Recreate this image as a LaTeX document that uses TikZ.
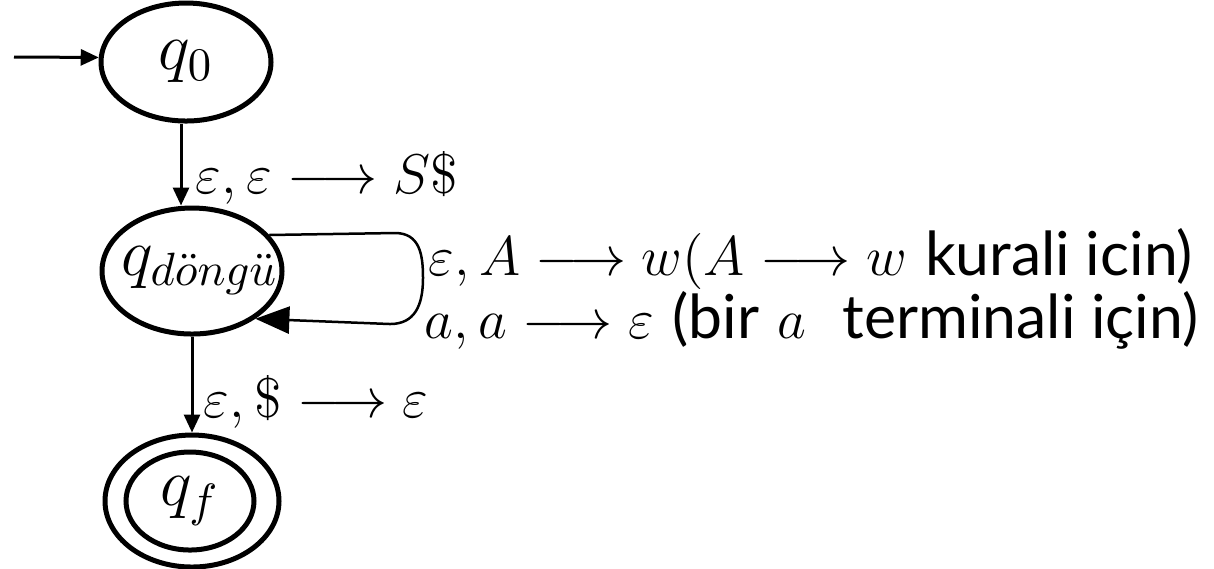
\documentclass[tikz,border=0pt]{standalone}
\usepackage[no-math]{fontspec}
\newfontfamily\gill{Lato}
\newcommand\gtxt[1]{{\gill\fontsize{13}{15}\selectfont #1}}
\usetikzlibrary{shapes.geometric,arrows.meta}
\newlength\uu
\setlength\uu{0.2142857pt}
\begin{document}
\begin{tikzpicture}[x=\uu,y=-\uu,
  every node/.style={font=\fontsize{12}{14}\selectfont},
  state/.style={ellipse, draw, line width=5\uu, inner sep=0pt, font=\fontsize{14.4}{17}\selectfont},
  edge/.style={line width=3\uu, -{Triangle[length=3.86pt,width=3.43pt]}},
  loopedge/.style={line width=2.5\uu, -{Triangle[length=7.29pt,width=5.79pt]}},
  lbl/.style={anchor=base west, inner sep=0pt}]
\useasboundingbox (0,0) rectangle (1214,568);
\node[state, minimum width=170\uu, minimum height=118\uu] (q0) at (186,62) {$q_0$};
\node[state, minimum width=180\uu, minimum height=126\uu] (qd) at (192,271) {\makebox[0pt]{\hspace*{16\uu}$q_{d\ddot{o}ng\ddot{u}}$}};
\node[state, minimum width=174\uu, minimum height=132\uu] (qf) at (192,501) {};
\node[state, minimum width=128\uu, minimum height=98\uu] (qfi) at (190,501) {$q_f$};
\coordinate (s) at (14,57);
\draw[edge] (s) -- (q0.177);
\draw[edge] ([xshift=-5\uu]q0.south) -- ([xshift=-11\uu]qd.north);
\draw[edge] (qd.south) -- (qf.north);
\draw[loopedge] (qd.25) -- (395,233) .. controls (420,233) and (423,255) .. (423,278)
  .. controls (423,305) and (415,324) .. (390,324) -- (qd.-37);
\node[lbl] (l1) at (195,193) {$\varepsilon, \varepsilon \longrightarrow S\$$};
\node[lbl] (l2) at (428,275) {$\varepsilon, A \longrightarrow w(A \longrightarrow w$ \gtxt{kurali icin)}};
\node[lbl] (l3) at (424,338) {$a, a \longrightarrow \varepsilon$ \gtxt{(bir} $a$\ \ \gtxt{terminali için)}};
\node[lbl] (l4) at (203,417) {$\varepsilon, \$ \longrightarrow \varepsilon$};
\end{tikzpicture}
\end{document}
